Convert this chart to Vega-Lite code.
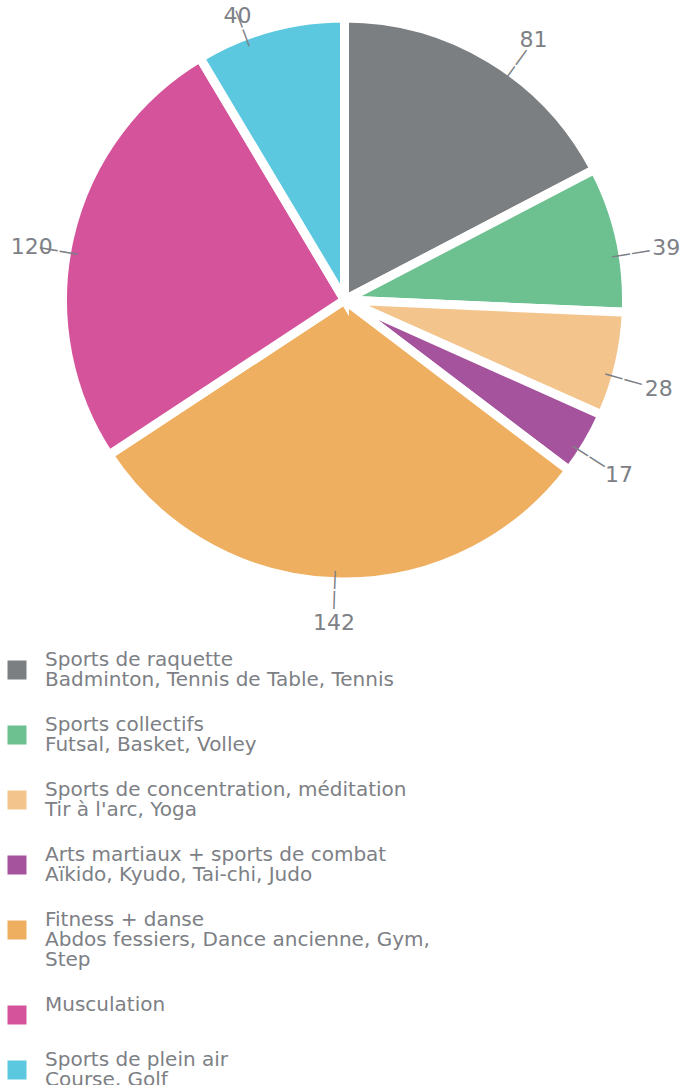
{
  "$schema": "https://vega.github.io/schema/vega-lite/v6.json",
  "width": 689,
  "height": 588,
  "padding": 0,
  "background": "white",
  "config": {"view": {"stroke": null}, "style": {"guide-label": {"lineHeight": 20}}},
  "data": {"values": [
    {"category": "Sports de raquette\nBadminton, Tennis de Table, Tennis", "value": 81, "order": 1},
    {"category": "Sports collectifs\nFutsal, Basket, Volley", "value": 39, "order": 2},
    {"category": "Sports de concentration, méditation\nTir à l'arc, Yoga", "value": 28, "order": 3},
    {"category": "Arts martiaux + sports de combat\nAïkido, Kyudo, Tai-chi, Judo", "value": 17, "order": 4},
    {"category": "Fitness + danse\nAbdos fessiers, Dance ancienne, Gym,\nStep", "value": 142, "order": 5},
    {"category": "Musculation", "value": 120, "order": 6},
    {"category": "Sports de plein air\nCourse, Golf", "value": 40, "order": 7}
  ]},
  "resolve": {"scale": {"theta": "independent", "radius": "independent", "angle": "independent"}},
  "layer": [
    {
      "mark": {"type": "arc", "outerRadius": 282, "stroke": "white", "strokeWidth": 9},
      "encoding": {
        "theta": {"field": "value", "type": "quantitative", "stack": true},
        "order": {"field": "order", "type": "quantitative"},
        "color": {
          "field": "category",
          "type": "nominal",
          "scale": {
            "domain": [
              "Sports de raquette\nBadminton, Tennis de Table, Tennis",
              "Sports collectifs\nFutsal, Basket, Volley",
              "Sports de concentration, méditation\nTir à l'arc, Yoga",
              "Arts martiaux + sports de combat\nAïkido, Kyudo, Tai-chi, Judo",
              "Fitness + danse\nAbdos fessiers, Dance ancienne, Gym,\nStep",
              "Musculation",
              "Sports de plein air\nCourse, Golf"
            ],
            "range": ["#7b7f82", "#6dc08f", "#f3c48b", "#a5539d", "#efaf61", "#d4539a", "#5bc8df"]
          },
          "legend": {
            "title": null,
            "orient": "none",
            "legendX": 7,
            "legendY": 654,
            "direction": "vertical",
            "symbolType": "square",
            "symbolSize": 361,
            "symbolStrokeWidth": 0,
            "symbolOpacity": 1,
            "labelFont": "DejaVu Sans",
            "labelFontSize": 20,
            "labelColor": "#7d8085",
            "labelOffset": 18,
            "labelLimit": 1000,
            "labelBaseline": "line-bottom",
            "rowPadding": 25,
            "padding": 0,
            "offset": 0,
            "labelExpr": "split(datum.label, '\\n')"
          }
        }
      }
    },
    {
      "transform": [
        {"stack": "value", "groupby": [], "sort": [{"field": "order"}], "offset": "normalize", "as": ["v0", "v1"]},
        {"fold": ["v0", "v1"], "as": ["edge", "cum"]},
        {"aggregate": [{"op": "mean", "field": "cum", "as": "mid"}], "groupby": ["category", "value", "order"]}
      ],
      "layer": [
        {
          "mark": {"type": "text", "text": "——", "font": "DejaVu Sans", "fontSize": 20, "fill": "#7d8085", "align": "center", "baseline": "middle", "radius": 290},
          "encoding": {
            "theta": {"field": "mid", "type": "quantitative", "scale": {"domain": [0, 1], "range": [0.1, 6.183185307], "zero": false, "nice": false}},
            "angle": {"field": "mid", "type": "quantitative", "scale": {"domain": [0, 1], "range": [-84.27, 264.27], "zero": false, "nice": false}, "legend": null}
          }
        },
        {
          "mark": {"type": "text", "font": "DejaVu Sans", "fontSize": 22, "fill": "#7d8085", "align": "center", "baseline": "middle"},
          "encoding": {
            "theta": {"field": "mid", "type": "quantitative", "scale": {"domain": [0, 1], "range": [0.2, 6.083185307], "zero": false, "nice": false}},
            "radius": {"field": "mid", "type": "quantitative", "scale": {"type": "linear", "domain": [0, 0.25, 0.5, 0.75, 1], "range": [319, 327, 323, 320, 300], "zero": false, "nice": false}},
            "text": {"field": "value", "type": "quantitative"}
          }
        }
      ]
    }
  ]
}
